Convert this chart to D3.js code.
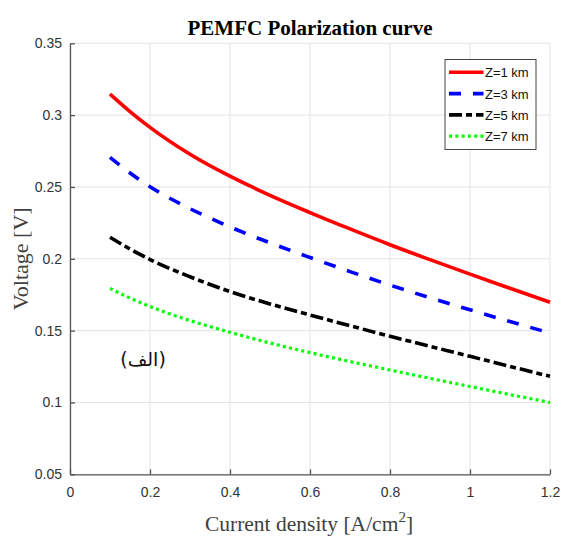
<!DOCTYPE html>
<html>
<head>
<meta charset="utf-8">
<script src="https://cdn.jsdelivr.net/npm/d3@7"></script>
<style>
  html, body { margin: 0; padding: 0; background: #fff; }
  svg { display: block; }
</style>
</head>
<body>
<svg id="chart" width="563" height="537"></svg>
<script>
// Current density samples [A/cm^2]
const currentDensity = [0.1, 0.15, 0.2, 0.3, 0.4, 0.5, 0.6, 0.7, 0.8, 0.9, 1.0, 1.1, 1.2];

// Cell voltage [V] at each altitude
const voltageZ1 = [0.3147, 0.3025, 0.2915, 0.2728, 0.2575, 0.2442, 0.2322, 0.2208, 0.2098, 0.1994, 0.1893, 0.1795, 0.1698];
const voltageZ3 = [0.2706, 0.2597, 0.2502, 0.2349, 0.2222, 0.2111, 0.2009, 0.1911, 0.1817, 0.1729, 0.1645, 0.1563, 0.1484];
const voltageZ5 = [0.2150, 0.2068, 0.1995, 0.1875, 0.1772, 0.1686, 0.1609, 0.1534, 0.1461, 0.1391, 0.1321, 0.1251, 0.1182];
const voltageZ7 = [0.1794, 0.1727, 0.1668, 0.1570, 0.1489, 0.1414, 0.1347, 0.1285, 0.1226, 0.1168, 0.1111, 0.1055, 0.1000];

const seriesNames = ["Z=1 km", "Z=3 km", "Z=5 km", "Z=7 km"];
const xTicks = [0, 0.2, 0.4, 0.6, 0.8, 1, 1.2];
const yTicks = [0.05, 0.1, 0.15, 0.2, 0.25, 0.3, 0.35];

const styles = [
  { color: "#ff0000", width: 3.6, dash: null },
  { color: "#0000ff", width: 3.6, dash: "12,12" },
  { color: "#000000", width: 3.6, dash: "13,4,6,4" },
  { color: "#00ff00", width: 3.2, dash: "3,3.3" }
];

const series = [voltageZ1, voltageZ3, voltageZ5, voltageZ7].map((v, i) => ({
  name: seriesNames[i],
  points: currentDensity.map((x, j) => ({ x, y: v[j] })),
  style: styles[i]
}));

const svg = d3.select("#chart");
const plot = { left: 70, right: 550, top: 43.3, bottom: 474.3 };

const x = d3.scaleLinear().domain([0, 1.2]).range([plot.left, plot.right]);
const y = d3.scaleLinear().domain([0.05, 0.35]).range([plot.bottom, plot.top]);

// Grid lines
const grid = svg.append("g").attr("class", "grid");
grid.selectAll("line.gx").data(xTicks).join("line")
  .attr("x1", d => x(d)).attr("x2", d => x(d))
  .attr("y1", plot.top).attr("y2", plot.bottom)
  .attr("stroke", "#e4e4e4").attr("stroke-width", 1);
grid.selectAll("line.gy").data(yTicks).join("line")
  .attr("x1", plot.left).attr("x2", plot.right)
  .attr("y1", d => y(d)).attr("y2", d => y(d))
  .attr("stroke", "#e4e4e4").attr("stroke-width", 1);

// Axes with inward ticks
const axisColor = "#555";
const tickFont = "'Liberation Sans', Arial, sans-serif";

const xAxis = svg.append("g")
  .attr("transform", `translate(0,${plot.bottom})`)
  .call(d3.axisBottom(x).tickValues(xTicks).tickSizeInner(-5).tickSizeOuter(0)
    .tickPadding(13).tickFormat(d3.format("~g")));
const yAxis = svg.append("g")
  .attr("transform", `translate(${plot.left},0)`)
  .call(d3.axisLeft(y).tickValues(yTicks).tickSizeInner(-5).tickSizeOuter(0)
    .tickPadding(8).tickFormat(d3.format("~g")));

[xAxis, yAxis].forEach(g => {
  g.select(".domain").attr("stroke", axisColor).attr("stroke-width", 1.3);
  g.selectAll(".tick line").attr("stroke", axisColor).attr("stroke-width", 1.3);
  g.selectAll(".tick text")
    .attr("fill", "#333")
    .style("font-family", tickFont)
    .style("font-size", "14px");
});

// Polarization curves
const line = d3.line()
  .x(d => x(d.x))
  .y(d => y(d.y))
  .curve(d3.curveMonotoneX);

svg.append("g").selectAll("path").data(series).join("path")
  .attr("d", d => line(d.points))
  .attr("fill", "none")
  .attr("stroke", d => d.style.color)
  .attr("stroke-width", d => d.style.width)
  .attr("stroke-dasharray", d => d.style.dash)
  .attr("stroke-linecap", "butt")
  .attr("stroke-linejoin", "round");

// Legend
const legend = svg.append("g").attr("transform", "translate(445,59.5)");
legend.append("rect")
  .attr("width", 91).attr("height", 90)
  .attr("fill", "#fff").attr("stroke", "#444").attr("stroke-width", 1);
const rows = legend.selectAll("g.row").data(series).join("g")
  .attr("transform", (d, i) => `translate(0,${12.8 + i * 21.3})`);
rows.append("line")
  .attr("x1", 4).attr("x2", 38.5).attr("y1", 0).attr("y2", 0)
  .attr("stroke", d => d.style.color)
  .attr("stroke-width", d => d.style.width)
  .attr("stroke-dasharray", d => d.style.dash);
rows.append("text")
  .attr("x", 40).attr("y", 0.5)
  .attr("dominant-baseline", "central")
  .attr("fill", "#111")
  .style("font-family", tickFont)
  .style("font-size", "13px")
  .text(d => d.name);

// Title and axis labels
const serif = "'Liberation Serif', 'Times New Roman', serif";
svg.append("text")
  .attr("x", (plot.left + plot.right) / 2).attr("y", 35)
  .attr("text-anchor", "middle")
  .style("font-family", serif)
  .style("font-weight", "bold")
  .style("font-size", "21px")
  .attr("fill", "#000")
  .text("PEMFC Polarization curve");

svg.append("text")
  .attr("transform", `translate(20,${(plot.top + plot.bottom) / 2}) rotate(-90)`)
  .attr("text-anchor", "middle")
  .attr("dominant-baseline", "central")
  .style("font-family", serif)
  .style("font-size", "22px")
  .attr("fill", "#404040")
  .text("Voltage [V]");

const xLabel = svg.append("text")
  .attr("x", (plot.left + plot.right) / 2 - 1).attr("y", 530.5)
  .attr("text-anchor", "middle")
  .style("font-family", serif)
  .style("font-size", "21.5px")
  .attr("fill", "#404040");
xLabel.append("tspan").text("Current density [A/cm");
xLabel.append("tspan").attr("dy", -9).style("font-size", "15px").text("2");
xLabel.append("tspan").attr("dy", 9).text("]");

// Panel tag
svg.append("text")
  .attr("x", 143).attr("y", 359)
  .attr("text-anchor", "middle")
  .attr("dominant-baseline", "central")
  .style("font-family", "'DejaVu Sans', 'Noto Sans', sans-serif")
  .style("font-size", "19px")
  .attr("fill", "#111")
  .text("(الف)");
</script>
</body>
</html>
